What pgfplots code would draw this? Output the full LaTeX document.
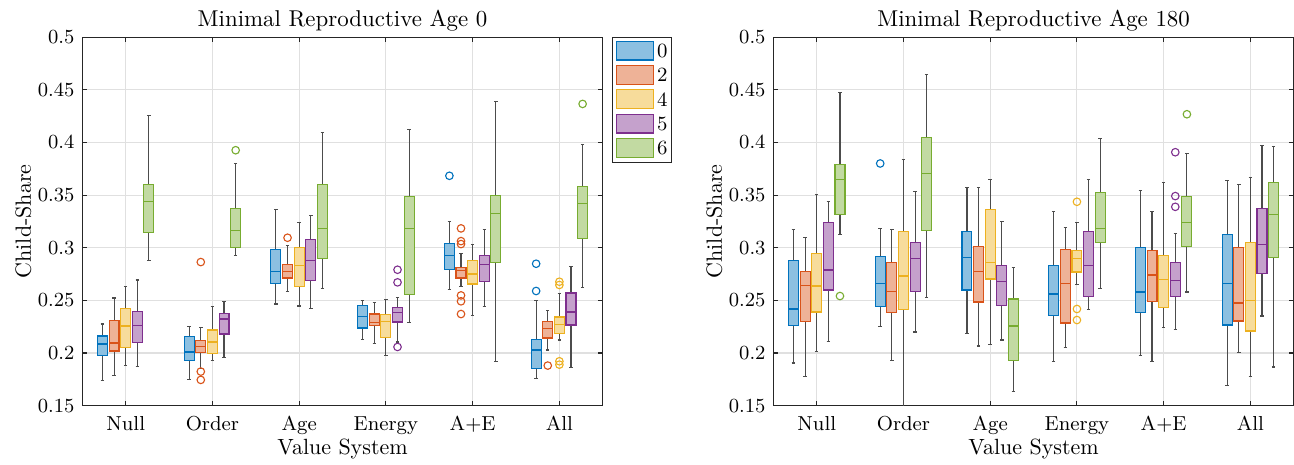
\documentclass[border=0pt]{standalone}
\usepackage{pgfplots}
\pgfplotsset{compat=1.18}
\usepgfplotslibrary{statistics}
\definecolor{c0}{rgb}{0,0.447,0.741}
\definecolor{c2}{rgb}{0.850,0.325,0.098}
\definecolor{c4}{rgb}{0.929,0.694,0.125}
\definecolor{c5}{rgb}{0.494,0.184,0.556}
\definecolor{c6}{rgb}{0.466,0.674,0.188}
\pgfplotsset{
 bxs/.style={forget plot, line width=0.5pt, mark=o, mark size=1.7pt,
   boxplot/draw direction=y,
   boxplot/box extend=0.115, boxplot/whisker extend=0.04,
   boxplot/every whisker/.style={draw=black!70}},
 s0/.style={bxs, draw=c0, fill=c0!45!white, mark options={draw=c0, fill=none, solid}},
 s2/.style={bxs, draw=c2, fill=c2!45!white, mark options={draw=c2, fill=none, solid}},
 s4/.style={bxs, draw=c4, fill=c4!45!white, mark options={draw=c4, fill=none, solid}},
 s5/.style={bxs, draw=c5, fill=c5!45!white, mark options={draw=c5, fill=none, solid}},
 s6/.style={bxs, draw=c6, fill=c6!45!white, mark options={draw=c6, fill=none, solid}},
 myax/.style={
   scale only axis, width=234.2pt, height=165.7pt, anchor=south west,
   xmin=0.5, xmax=6.5, ymin=0.15, ymax=0.5,
   xtick={1,2,3,4,5,6}, xticklabels={Null,Order,Age,Energy,A+E,All},
   ytick={0.15,0.2,0.25,0.3,0.35,0.4,0.45,0.5},
   xmajorgrids, ymajorgrids, major grid style={black!12, line width=0.5pt},
   axis line style={black!85, line width=0.5pt},
   tick style={black!85, line width=0.5pt}, major tick length=2.2pt,
   tick label style={font=\fontsize{9.1}{10}\selectfont},
   xticklabel style={anchor=base, yshift=-11pt},
   xlabel={Value System}, ylabel={Child-Share},
   label style={font=\fontsize{9.9}{11}\selectfont},
   xlabel style={at={(axis description cs:0.5,0)}, anchor=base, yshift=-22pt},
   ylabel style={at={(axis description cs:-0.099,0.5)}, anchor=base},
   every axis title shift=0pt,
   title style={at={(axis description cs:0.5,1)}, anchor=base, yshift=4.8pt, font=\fontsize{10.3}{12}\selectfont},
 }
}
\begin{document}
\begin{tikzpicture}
\useasboundingbox (0,0) rectangle (582.3pt,208.8pt);
\begin{axis}[myax, at={(37.04pt,26.3pt)}, title={Minimal Reproductive Age 0},
  legend style={at={(1,1)}, anchor=north west, xshift=4.3pt, draw=black!85, line width=0.5pt,
    font=\fontsize{9.1}{10}\selectfont, inner xsep=1.2pt, inner ysep=1.2pt, row sep=1.2pt,
    nodes={inner sep=0.6pt}, cells={anchor=base west},
    /tikz/every odd column/.append style={column sep=0.6pt}},
  legend image code/.code={\draw[#1, line width=0.5pt] (0pt,-1.1pt) rectangle (17pt,7.4pt);}]
\addlegendimage{draw=c0, fill=c0!45!white}\addlegendentry{0}
\addlegendimage{draw=c2, fill=c2!45!white}\addlegendentry{2}
\addlegendimage{draw=c4, fill=c4!45!white}\addlegendentry{4}
\addlegendimage{draw=c5, fill=c5!45!white}\addlegendentry{5}
\addlegendimage{draw=c6, fill=c6!45!white}\addlegendentry{6}
% Null
\addplot[s0,boxplot prepared={draw position=0.732,lower whisker=0.174,lower quartile=0.1972,median=0.2085,upper quartile=0.2161,upper whisker=0.2275}] coordinates {};
\addplot[s2,boxplot prepared={draw position=0.866,lower whisker=0.1785,lower quartile=0.2019,median=0.2095,upper quartile=0.2310,upper whisker=0.2522}] coordinates {};
\addplot[s4,boxplot prepared={draw position=1,lower whisker=0.188,lower quartile=0.2054,median=0.2256,upper quartile=0.2424,upper whisker=0.2633}] coordinates {};
\addplot[s5,boxplot prepared={draw position=1.134,lower whisker=0.1873,lower quartile=0.2101,median=0.2263,upper quartile=0.2392,upper whisker=0.2693}] coordinates {};
\addplot[s6,boxplot prepared={draw position=1.268,lower whisker=0.2883,lower quartile=0.3149,median=0.3443,upper quartile=0.3598,upper whisker=0.4256}] coordinates {};
% Order
\addplot[s0,boxplot prepared={draw position=1.732,lower whisker=0.1747,lower quartile=0.193,median=0.2009,upper quartile=0.2155,upper whisker=0.225}] coordinates {};
\addplot[s2,boxplot prepared={draw position=1.866,lower whisker=0.1854,lower quartile=0.2003,median=0.2063,upper quartile=0.2117,upper whisker=0.2241}] table[row sep=\\,y index=0] {y\\0.2864\\0.1823\\0.1744\\};
\addplot[s4,boxplot prepared={draw position=2,lower whisker=0.1927,lower quartile=0.1991,median=0.2104,upper quartile=0.2218,upper whisker=0.2443}] coordinates {};
\addplot[s5,boxplot prepared={draw position=2.134,lower whisker=0.1959,lower quartile=0.218,median=0.2323,upper quartile=0.2373,upper whisker=0.2487}] coordinates {};
\addplot[s6,boxplot prepared={draw position=2.268,lower whisker=0.293,lower quartile=0.3006,median=0.3161,upper quartile=0.3373,upper whisker=0.3804}] table[row sep=\\,y index=0] {y\\0.3927\\};
% Age
\addplot[s0,boxplot prepared={draw position=2.732,lower whisker=0.2465,lower quartile=0.2658,median=0.2772,upper quartile=0.2981,upper whisker=0.3361}] coordinates {};
\addplot[s2,boxplot prepared={draw position=2.866,lower whisker=0.2582,lower quartile=0.2712,median=0.2778,upper quartile=0.2845,upper whisker=0.3022}] table[row sep=\\,y index=0] {y\\0.3095\\};
\addplot[s4,boxplot prepared={draw position=3,lower whisker=0.2446,lower quartile=0.263,median=0.2835,upper quartile=0.3003,upper whisker=0.3241}] coordinates {};
\addplot[s5,boxplot prepared={draw position=3.134,lower whisker=0.2421,lower quartile=0.269,median=0.2877,upper quartile=0.3079,upper whisker=0.3307}] coordinates {};
\addplot[s6,boxplot prepared={draw position=3.268,lower whisker=0.2611,lower quartile=0.2902,median=0.318,upper quartile=0.3598,upper whisker=0.4092}] coordinates {};
% Energy
\addplot[s0,boxplot prepared={draw position=3.732,lower whisker=0.2127,lower quartile=0.2237,median=0.2345,upper quartile=0.2453,upper whisker=0.25}] coordinates {};
\addplot[s2,boxplot prepared={draw position=3.866,lower whisker=0.2092,lower quartile=0.2259,median=0.2291,upper quartile=0.237,upper whisker=0.2481}] coordinates {};
\addplot[s4,boxplot prepared={draw position=4,lower whisker=0.1978,lower quartile=0.2149,median=0.2297,upper quartile=0.2364,upper whisker=0.2506}] coordinates {};
\addplot[s5,boxplot prepared={draw position=4.134,lower whisker=0.2104,lower quartile=0.2294,median=0.2383,upper quartile=0.2434,upper whisker=0.2528}] table[row sep=\\,y index=0] {y\\0.2791\\0.2671\\0.2057\\};
\addplot[s6,boxplot prepared={draw position=4.268,lower whisker=0.2288,lower quartile=0.2557,median=0.3184,upper quartile=0.349,upper whisker=0.4123}] coordinates {};
% A+E
\addplot[s0,boxplot prepared={draw position=4.732,lower whisker=0.2601,lower quartile=0.2794,median=0.293,upper quartile=0.3044,upper whisker=0.3253}] table[row sep=\\,y index=0] {y\\0.3684\\};
\addplot[s2,boxplot prepared={draw position=4.866,lower whisker=0.2633,lower quartile=0.2712,median=0.2785,upper quartile=0.2813,upper whisker=0.2946}] table[row sep=\\,y index=0] {y\\0.3184\\0.3063\\0.3035\\0.2547\\0.2491\\0.237\\};
\addplot[s4,boxplot prepared={draw position=5,lower whisker=0.2358,lower quartile=0.2655,median=0.275,upper quartile=0.2883,upper whisker=0.3028}] coordinates {};
\addplot[s5,boxplot prepared={draw position=5.134,lower whisker=0.2443,lower quartile=0.268,median=0.2845,upper quartile=0.2927,upper whisker=0.3174}] coordinates {};
\addplot[s6,boxplot prepared={draw position=5.268,lower whisker=0.1921,lower quartile=0.2864,median=0.3326,upper quartile=0.35,upper whisker=0.4392}] coordinates {};
% All
\addplot[s0,boxplot prepared={draw position=5.732,lower whisker=0.1756,lower quartile=0.1851,median=0.2028,upper quartile=0.213,upper whisker=0.2497}] table[row sep=\\,y index=0] {y\\0.2848\\0.2589\\};
\addplot[s2,boxplot prepared={draw position=5.866,lower whisker=0.2028,lower quartile=0.2142,median=0.2231,upper quartile=0.2297,upper whisker=0.2402}] table[row sep=\\,y index=0] {y\\0.188\\};
\addplot[s4,boxplot prepared={draw position=6,lower whisker=0.2123,lower quartile=0.2184,median=0.2269,upper quartile=0.2342,upper whisker=0.2566}] table[row sep=\\,y index=0] {y\\0.2677\\0.2646\\0.1921\\0.1889\\};
\addplot[s5,boxplot prepared={draw position=6.134,lower whisker=0.1858,lower quartile=0.2266,median=0.2389,upper quartile=0.257,upper whisker=0.2823}] coordinates {};
\addplot[s6,boxplot prepared={draw position=6.268,lower whisker=0.2623,lower quartile=0.3089,median=0.3424,upper quartile=0.3585,upper whisker=0.3984}] table[row sep=\\,y index=0] {y\\0.4367\\};
\end{axis}
\begin{axis}[myax, at={(348.0pt,26.3pt)}, title={Minimal Reproductive Age 180}]
% Null
\addplot[s0,boxplot prepared={draw position=0.732,lower whisker=0.1905,lower quartile=0.2263,median=0.2418,upper quartile=0.2883,upper whisker=0.3174}] coordinates {};
\addplot[s2,boxplot prepared={draw position=0.866,lower whisker=0.1775,lower quartile=0.2301,median=0.2639,upper quartile=0.2775,upper whisker=0.3095}] coordinates {};
\addplot[s4,boxplot prepared={draw position=1,lower whisker=0.2016,lower quartile=0.2389,median=0.2636,upper quartile=0.2946,upper whisker=0.3509}] coordinates {};
\addplot[s5,boxplot prepared={draw position=1.134,lower whisker=0.2108,lower quartile=0.2598,median=0.2788,upper quartile=0.324,upper whisker=0.3437}] coordinates {};
\addplot[s6,boxplot prepared={draw position=1.268,lower whisker=0.3127,lower quartile=0.3316,median=0.3649,upper quartile=0.3794,upper whisker=0.4478}] table[row sep=\\,y index=0] {y\\0.2541\\};
% Order
\addplot[s0,boxplot prepared={draw position=1.732,lower whisker=0.225,lower quartile=0.244,median=0.2661,upper quartile=0.2915,upper whisker=0.3184}] table[row sep=\\,y index=0] {y\\0.3801\\};
\addplot[s2,boxplot prepared={draw position=1.866,lower whisker=0.193,lower quartile=0.2383,median=0.2585,upper quartile=0.2864,upper whisker=0.3171}] coordinates {};
\addplot[s4,boxplot prepared={draw position=2,lower whisker=0.148,lower quartile=0.2411,median=0.2731,upper quartile=0.3152,upper whisker=0.3835}] coordinates {};
\addplot[s5,boxplot prepared={draw position=2.134,lower whisker=0.2199,lower quartile=0.2585,median=0.2899,upper quartile=0.3051,upper whisker=0.3535}] coordinates {};
\addplot[s6,boxplot prepared={draw position=2.268,lower whisker=0.2525,lower quartile=0.3168,median=0.3709,upper quartile=0.4047,upper whisker=0.4649}] coordinates {};
% Age
\addplot[s0,boxplot prepared={draw position=2.732,lower whisker=0.2184,lower quartile=0.2598,median=0.2908,upper quartile=0.3155,upper whisker=0.3573}] coordinates {};
\addplot[s2,boxplot prepared={draw position=2.866,lower whisker=0.2066,lower quartile=0.2484,median=0.2772,upper quartile=0.3013,upper whisker=0.3576}] coordinates {};
\addplot[s4,boxplot prepared={draw position=3,lower whisker=0.2082,lower quartile=0.2703,median=0.2864,upper quartile=0.3367,upper whisker=0.3646}] coordinates {};
\addplot[s5,boxplot prepared={draw position=3.134,lower whisker=0.2123,lower quartile=0.2449,median=0.2677,upper quartile=0.2832,upper whisker=0.325}] coordinates {};
\addplot[s6,boxplot prepared={draw position=3.268,lower whisker=0.1633,lower quartile=0.1927,median=0.2256,upper quartile=0.2513,upper whisker=0.281}] coordinates {};
% Energy
\addplot[s0,boxplot prepared={draw position=3.732,lower whisker=0.1918,lower quartile=0.2354,median=0.256,upper quartile=0.2829,upper whisker=0.3345}] coordinates {};
\addplot[s2,boxplot prepared={draw position=3.866,lower whisker=0.2054,lower quartile=0.2285,median=0.2658,upper quartile=0.2987,upper whisker=0.3193}] coordinates {};
\addplot[s4,boxplot prepared={draw position=4,lower whisker=0.2649,lower quartile=0.2769,median=0.2899,upper quartile=0.2978,upper whisker=0.3237}] table[row sep=\\,y index=0] {y\\0.3437\\0.2418\\0.2313\\};
\addplot[s5,boxplot prepared={draw position=4.134,lower whisker=0.2411,lower quartile=0.2538,median=0.2835,upper quartile=0.3152,upper whisker=0.3652}] coordinates {};
\addplot[s6,boxplot prepared={draw position=4.268,lower whisker=0.2614,lower quartile=0.3054,median=0.3187,upper quartile=0.3528,upper whisker=0.4035}] coordinates {};
% A+E
\addplot[s0,boxplot prepared={draw position=4.732,lower whisker=0.1975,lower quartile=0.2386,median=0.2579,upper quartile=0.3003,upper whisker=0.3547}] coordinates {};
\addplot[s2,boxplot prepared={draw position=4.866,lower whisker=0.1921,lower quartile=0.2487,median=0.2741,upper quartile=0.2978,upper whisker=0.3345}] coordinates {};
\addplot[s4,boxplot prepared={draw position=5,lower whisker=0.2244,lower quartile=0.2434,median=0.2699,upper quartile=0.2927,upper whisker=0.3617}] coordinates {};
\addplot[s5,boxplot prepared={draw position=5.134,lower whisker=0.2225,lower quartile=0.2538,median=0.2687,upper quartile=0.2864,upper whisker=0.3139}] table[row sep=\\,y index=0] {y\\0.3908\\0.3491\\0.3389\\};
\addplot[s6,boxplot prepared={draw position=5.268,lower whisker=0.2579,lower quartile=0.3016,median=0.3244,upper quartile=0.3491,upper whisker=0.3892}] table[row sep=\\,y index=0] {y\\0.4269\\};
% All
\addplot[s0,boxplot prepared={draw position=5.732,lower whisker=0.1693,lower quartile=0.2266,median=0.2661,upper quartile=0.3127,upper whisker=0.3642}] coordinates {};
\addplot[s2,boxplot prepared={draw position=5.866,lower whisker=0.2003,lower quartile=0.2304,median=0.2475,upper quartile=0.3,upper whisker=0.3604}] coordinates {};
\addplot[s4,boxplot prepared={draw position=6,lower whisker=0.1772,lower quartile=0.2209,median=0.25,upper quartile=0.3047,upper whisker=0.3668}] coordinates {};
\addplot[s5,boxplot prepared={draw position=6.134,lower whisker=0.2351,lower quartile=0.2759,median=0.3035,upper quartile=0.337,upper whisker=0.3975}] coordinates {};
\addplot[s6,boxplot prepared={draw position=6.268,lower whisker=0.1867,lower quartile=0.2905,median=0.332,upper quartile=0.362,upper whisker=0.3965}] coordinates {};
\end{axis}
\end{tikzpicture}
\end{document}
